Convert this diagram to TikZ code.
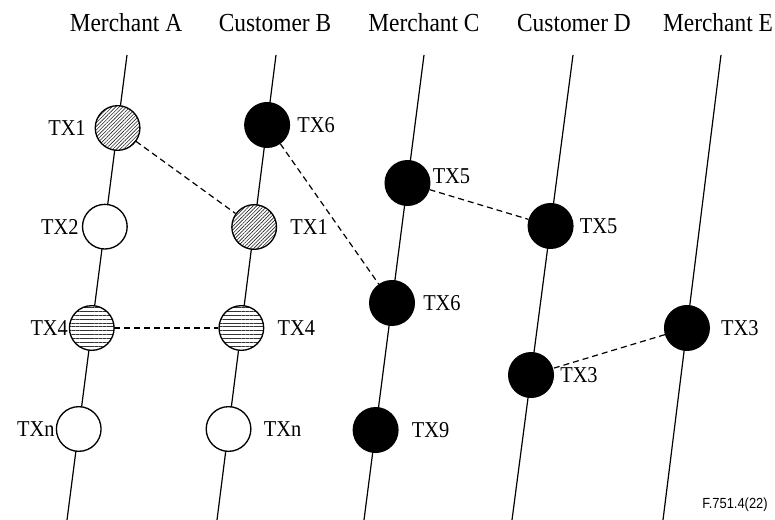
\documentclass[tikz,border=0pt]{standalone}
\usepackage{fontspec}
\setmainfont{Liberation Serif}[FakeStretch=0.9]
\newfontfamily\figsans{Liberation Sans}[FakeStretch=0.88]
\usetikzlibrary{calc,patterns.meta}
\begin{document}
\begin{tikzpicture}[x=0.75pt,y=-0.75pt,
  timeline/.style={line width=0.9pt},
  link/.style={line width=0.9pt,dash pattern=on 4.5pt off 3pt},
  txc/.style={circle,draw,line width=1pt,minimum size=33.5pt,inner sep=0pt},
  txwhite/.style={txc,fill=white},
  txblack/.style={txc,fill=black},
  txdiag/.style={txc,preaction={fill=white},pattern={Lines[angle=45,distance=1.9pt,line width=0.45pt]},pattern color=black!85},
  txhoriz/.style={txc,preaction={fill=white},pattern={Lines[angle=0,distance=2.9pt,line width=0.4pt]},pattern color=black!80},
  head/.style={font=\fontsize{19.5}{22}\selectfont,inner sep=0pt},
  txlab/.style={font=\fontsize{17}{20}\selectfont,inner sep=0pt}]
\useasboundingbox (0,0) rectangle (775,520);
% headers
\node[head] (hA) at (126,23) {Merchant A};
\node[head] (hB) at (275,23) {Customer B};
\node[head] (hC) at (424,23) {Merchant C};
\node[head] (hD) at (574,23) {Customer D};
\node[head] (hE) at (718,23) {Merchant E};
% timelines
\coordinate (At) at (127,55); \coordinate (Ab) at (67,520);
\coordinate (Bt) at (276,55); \coordinate (Bb) at (217,520);
\coordinate (Ct) at (424,55); \coordinate (Cb) at (364,520);
\coordinate (Dt) at (573,55); \coordinate (Db) at (512,520);
\coordinate (Et) at (721,55); \coordinate (Eb) at (663,520);
\foreach \l in {A,B,C,D,E}{\draw[timeline] (\l t) -- (\l b);}
% circle positions (fraction along line: (y-55)/465)
\coordinate (pA1) at ($(At)!0.1570!(Ab)$);
\coordinate (pA2) at ($(At)!0.3692!(Ab)$);
\coordinate (pA4) at ($(At)!0.5871!(Ab)$);
\coordinate (pAn) at ($(At)!0.8043!(Ab)$);
\coordinate (pB6) at ($(Bt)!0.1505!(Bb)$);
\coordinate (pB1) at ($(Bt)!0.3699!(Bb)$);
\coordinate (pB4) at ($(Bt)!0.5871!(Bb)$);
\coordinate (pBn) at ($(Bt)!0.8043!(Bb)$);
\coordinate (pC5) at ($(Ct)!0.2753!(Cb)$);
\coordinate (pC6) at ($(Ct)!0.5333!(Cb)$);
\coordinate (pC9) at ($(Ct)!0.8065!(Cb)$);
\coordinate (pD5) at ($(Dt)!0.3677!(Db)$);
\coordinate (pD3) at ($(Dt)!0.6882!(Db)$);
\coordinate (pE3) at ($(Et)!0.5871!(Eb)$);
% circles
\node[txdiag]  (A1) at (pA1) {};
\node[txwhite] (A2) at (pA2) {};
\node[txhoriz] (A4) at (pA4) {};
\node[txwhite] (An) at (pAn) {};
\node[txblack] (B6) at (pB6) {};
\node[txdiag]  (B1) at (pB1) {};
\node[txhoriz] (B4) at (pB4) {};
\node[txwhite] (Bn) at (pBn) {};
\node[txblack] (C5) at (pC5) {};
\node[txblack] (C6) at (pC6) {};
\node[txblack] (C9) at (pC9) {};
\node[txblack] (D5) at (pD5) {};
\node[txblack] (D3) at (pD3) {};
\node[txblack] (E3) at (pE3) {};
% dashed links
\draw[link] (A1) -- (B1);
\draw[link] (A4) -- (B4);
\draw[link] (B6) -- (C6);
\draw[link] (C5) -- (D5);
\draw[link] (E3) -- (D3);
% labels
\node[txlab,anchor=east] (lA1) at ($(A1.west)+(-9,0)$) {TX1};
\node[txlab,anchor=east] (lA2) at ($(A2.west)+(-3,0)$) {TX2};
\node[txlab,anchor=east] (lA4) at ($(A4.west)+(-1,0)$) {TX4};
\node[txlab,anchor=east] (lAn) at ($(An.west)+(-1,0)$) {TXn};
\node[txlab,anchor=west] (lB6) at ($(B6.east)+(7,0)$) {TX6};
\node[txlab,anchor=west] (lB1) at ($(B1.east)+(13,0)$) {TX1};
\node[txlab,anchor=west] (lB4) at ($(B4.east)+(13,0)$) {TX4};
\node[txlab,anchor=west] (lBn) at ($(Bn.east)+(12,0)$) {TXn};
\node[txlab,anchor=west] (lC5) at ($(C5.east)+(2,-7)$) {TX5};
\node[txlab,anchor=west] (lC6) at ($(C6.east)+(8,0)$) {TX6};
\node[txlab,anchor=west] (lC9) at ($(C9.east)+(13,0)$) {TX9};
\node[txlab,anchor=west] (lD5) at ($(D5.east)+(6,0)$) {TX5};
\node[txlab,anchor=west] (lD3) at ($(D3.east)+(6,0)$) {TX3};
\node[txlab,anchor=west] (lE3) at ($(E3.east)+(11,0)$) {TX3};
% figure id
\node[font=\figsans\fontsize{11}{13}\selectfont,inner sep=0pt] (fid) at (735,505) {F.751.4(22)};
\end{tikzpicture}
\end{document}
